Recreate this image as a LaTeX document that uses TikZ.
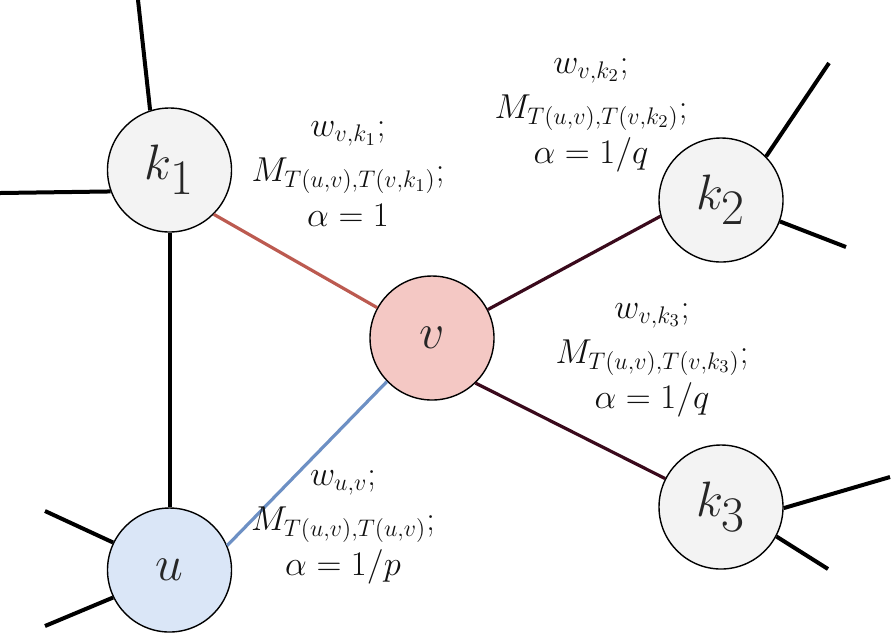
\documentclass[tikz,border=0pt]{standalone}
\definecolor{kfill}{HTML}{F3F3F3}
\definecolor{vfill}{HTML}{F4C8C4}
\definecolor{ufill}{HTML}{DAE6F7}
\definecolor{redge}{HTML}{BC5A50}
\definecolor{bedge}{HTML}{6D90C4}
\definecolor{dedge}{HTML}{3A0A1C}
\definecolor{txt}{HTML}{111111}
\begin{document}
\begin{tikzpicture}[x=0.5pt,y=-0.5pt,
  vert/.style={circle,draw=black,line width=0.7pt,minimum size=62pt,inner sep=0pt,
    font=\fontsize{34}{38}\selectfont,text=black!85},
  stub/.style={line width=2pt,black},
  edge/.style={line width=1.6pt},
  lab/.style={align=center,font=\fontsize{17.5}{22.5}\selectfont,text=txt}]
\useasboundingbox (0,0) rectangle (892,634);
% nodes
\node[vert,fill=kfill] (k1) at (169.5,170) {$k_1$};
\node[vert,fill=vfill] (v) at (432,338) {$v$};
\node[vert,fill=kfill] (k2) at (721,200) {$k_2$};
\node[vert,fill=ufill] (u) at (169.5,570) {$u$};
\node[vert,fill=kfill] (k3) at (721,507) {$k_3$};
% free ends
\coordinate (k1a) at (138,0);
\coordinate (k1b) at (0,193);
\coordinate (k2a) at (829,63);
\coordinate (k2b) at (846,247);
\coordinate (k3a) at (890,477);
\coordinate (k3b) at (828,569);
\coordinate (ua) at (45,511);
\coordinate (ub) at (45,626);
% connectors
\draw[stub] (k1.108) -- (k1a);
\draw[stub] (k1.200) -- (k1b);
\draw[stub] (k2.44) -- (k2a);
\draw[stub] (k2.-20) -- (k2b);
\draw[stub] (k3.-1) -- (k3a);
\draw[stub] (k3.-28) -- (k3b);
\draw[stub] (u.154) -- (ua);
\draw[stub] (u.206) -- (ub);
\draw[stub] (k1) -- (u);
\draw[edge,redge] (k1.-45) -- (v.151);
\draw[edge,bedge] (u.23.5) -- (v.224);
\draw[edge,dedge] (v.27) -- (k2.195);
\draw[edge,dedge] (v.-46) -- (k3.153);
% labels
\node[lab] (l1) at (348,174) {$w_{v,k_1};$\\ $M_{T(u,v),T(v,k_1)};$\\ $\alpha=1$};
\node[lab] (l2) at (591,115) {$w_{v,k_2};$\\ $M_{T(u,v),T(v,k_2)};$\\ $\alpha=1/q$};
\node[lab] (l3) at (652,360) {$w_{v,k_3};$\\ $M_{T(u,v),T(v,k_3)};$\\ $\alpha=1/q$};
\node[lab] (l4) at (343,527) {$w_{u,v};$\\ $M_{T(u,v),T(u,v)};$\\ $\alpha=1/p$};
\end{tikzpicture}
\end{document}
